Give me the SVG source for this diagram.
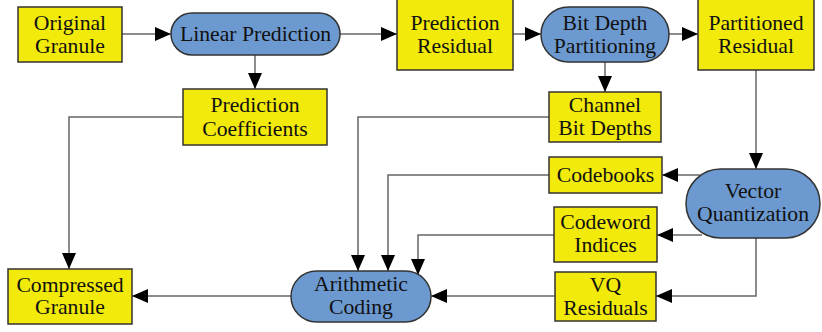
<svg xmlns="http://www.w3.org/2000/svg" width="822" height="332" viewBox="0 0 822 332">
<defs>
<marker id="ah" markerUnits="userSpaceOnUse" markerWidth="16" markerHeight="14" refX="16" refY="7" orient="auto">
<path d="M0,0 L16,7 L0,14 z" fill="#000"/>
</marker>
<style>
.box{fill:#F2EA0B;stroke:#333;stroke-width:1.5}
.proc{fill:#6C9AD0;stroke:#333;stroke-width:1.5}
.t{font-family:"Liberation Serif","Times New Roman",serif;font-size:21.7px;fill:#111;text-anchor:middle}
.c{fill:none;stroke:#666;stroke-width:1.5;marker-end:url(#ah)}
</style>
</defs>
<rect width="822" height="332" fill="#fff"/>
<g id="connectors">
<path class="c" d="M122,34 H171"/>
<path class="c" d="M340,34 H397"/>
<path class="c" d="M255,55 V89"/>
<path class="c" d="M513,34 H541"/>
<path class="c" d="M669,34 H698"/>
<path class="c" d="M605,62 V92"/>
<path class="c" d="M756,70 V169"/>
<path class="c" d="M183,117 H69 V269"/>
<path class="c" d="M549,117 H358 V271"/>
<path class="c" d="M700,175 H662"/>
<path class="c" d="M549,175 H388 V271"/>
<path class="c" d="M702,235 H657"/>
<path class="c" d="M554,235 H418 V275"/>
<path class="c" d="M756,238 V296 H656"/>
<path class="c" d="M555,296 H431"/>
<path class="c" d="M291,296 H132"/>
</g>
<g id="original-granule"><rect class="box" x="18" y="7" width="104" height="55"/><text class="t" x="70" y="30">Original</text><text class="t" x="70" y="53">Granule</text></g>
<g id="linear-prediction"><rect class="proc" x="171" y="13" width="169" height="42" rx="21"/><text class="t" x="255.5" y="41">Linear Prediction</text></g>
<g id="prediction-residual"><rect class="box" x="397" y="-1" width="116" height="71"/><text class="t" x="455" y="30">Prediction</text><text class="t" x="455" y="53">Residual</text></g>
<g id="bit-depth-partitioning"><rect class="proc" x="541" y="7" width="128" height="55" rx="27.5"/><text class="t" x="605" y="30">Bit Depth</text><text class="t" x="605" y="53">Partitioning</text></g>
<g id="partitioned-residual"><rect class="box" x="698" y="-1" width="116" height="71"/><text class="t" x="756" y="30">Partitioned</text><text class="t" x="756" y="53">Residual</text></g>
<g id="prediction-coefficients"><rect class="box" x="183" y="89" width="144" height="56"/><text class="t" x="255" y="112">Prediction</text><text class="t" x="255" y="136">Coefficients</text></g>
<g id="channel-bit-depths"><rect class="box" x="549" y="92" width="112" height="50"/><text class="t" x="605" y="112">Channel</text><text class="t" x="605" y="135">Bit Depths</text></g>
<g id="codebooks"><rect class="box" x="549" y="157" width="113" height="36"/><text class="t" x="605.5" y="182">Codebooks</text></g>
<g id="vector-quantization"><rect class="proc" x="686" y="169" width="134" height="69" rx="34.5"/><text class="t" x="753" y="198">Vector</text><text class="t" x="753" y="221">Quantization</text></g>
<g id="codeword-indices"><rect class="box" x="554" y="207" width="103" height="55"/><text class="t" x="605.5" y="229">Codeword</text><text class="t" x="605.5" y="252">Indices</text></g>
<g id="vq-residuals"><rect class="box" x="555" y="272" width="101" height="49"/><text class="t" x="605.5" y="292">VQ</text><text class="t" x="605.5" y="315">Residuals</text></g>
<g id="arithmetic-coding"><rect class="proc" x="291" y="271" width="140" height="51" rx="25.5"/><text class="t" x="361" y="291">Arithmetic</text><text class="t" x="361" y="314">Coding</text></g>
<g id="compressed-granule"><rect class="box" x="8" y="269" width="124" height="55"/><text class="t" x="70" y="292">Compressed</text><text class="t" x="70" y="314">Granule</text></g>
</svg>
